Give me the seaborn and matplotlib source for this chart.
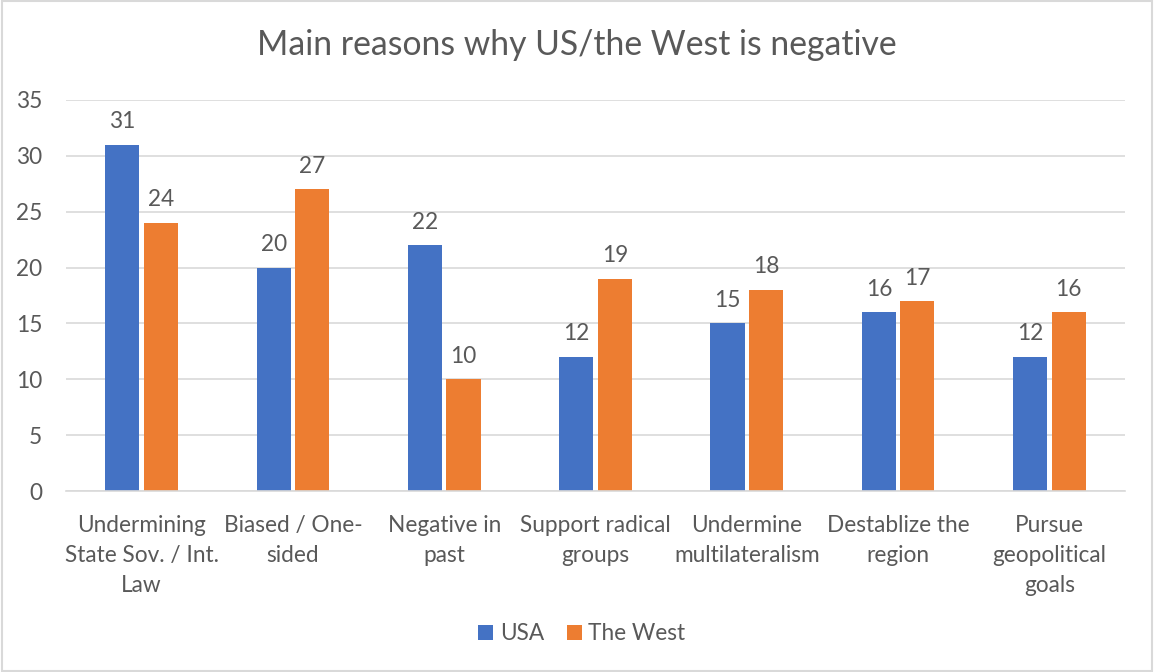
import matplotlib
matplotlib.use("Agg")
import matplotlib.pyplot as plt
import seaborn as sns
import pandas as pd
from matplotlib.patches import Rectangle

categories = ["Undermining\nState Sov. / Int.\nLaw", "Biased / One-\nsided", "Negative in\npast",
              "Support radical\ngroups", "Undermine\nmultilateralism", "Destablize the\nregion",
              "Pursue\ngeopolitical\ngoals"]
usa = [31, 20, 22, 12, 15, 16, 12]
west = [24, 27, 10, 19, 18, 17, 16]
series = ["USA", "The West"]
title = "Main reasons why US/the West is negative"

df = pd.DataFrame({
    "category": categories * 2,
    "value": usa + west,
    "series": [series[0]] * len(categories) + [series[1]] * len(categories),
})

sns.set_theme(style="white")
plt.rcParams["font.family"] = ["Lato", "DejaVu Sans"]
TXT = "#595959"
FS = 16.3

fig = plt.figure(figsize=(11.54, 6.72), dpi=100)
ax = fig.add_axes([66/1154, 1-491/672, (1125-66)/1154, (491-100)/672])

sns.barplot(data=df, x="category", y="value", hue="series", order=categories,
            hue_order=series, palette=["#4472C4", "#ED7D31"], width=0.51, gap=0.117,
            saturation=1, ax=ax, legend=True, linewidth=0, edgecolor="none")

ax.set_ylim(0, 35)
ax.set_yticks(range(0, 36, 5))
ax.set_xlim(-0.5, len(categories) - 0.5)
ax.yaxis.grid(True, color="#D9D9D9", linewidth=1.2)
ax.set_axisbelow(True)
for s in ["top", "right", "left"]:
    ax.spines[s].set_visible(False)
ax.spines["bottom"].set_color("#D9D9D9")
ax.spines["bottom"].set_linewidth(1.2)
ax.tick_params(axis="both", length=0, labelsize=FS, colors=TXT)
ax.tick_params(axis="x", pad=17)
ax.tick_params(axis="y", pad=17)
for lbl in ax.get_xticklabels():
    lbl.set_linespacing(1.55)
ax.set_xlabel("")
ax.set_ylabel("")

for cont in ax.containers:
    ax.bar_label(cont, padding=9, fontsize=FS, color=TXT)

handles, labels = ax.get_legend_handles_labels()
ax.legend_.remove()
fig.legend(handles, labels, loc="center", bbox_to_anchor=(582/1154, 1-634/672), ncol=2,
           frameon=False, fontsize=FS, labelcolor=TXT, handlelength=0.65, handleheight=0.65,
           handletextpad=0.3, columnspacing=1.0)

fig.text(0.5, 1-45/672, title, ha="center", va="center", fontsize=24.3, color=TXT)

fig.patches.append(Rectangle((0.002, 0.002), 0.996, 0.996, transform=fig.transFigure,
                             fill=False, edgecolor="#D9D9D9", linewidth=1.5))

fig.savefig("out.png", dpi=100, facecolor="white")
